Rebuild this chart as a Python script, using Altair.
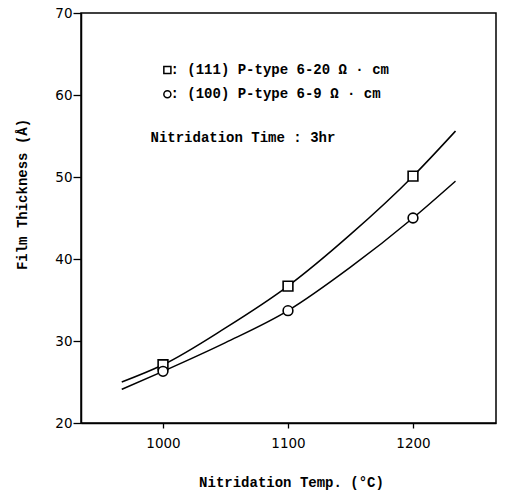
import altair as alt
import pandas as pd

# ---- data ----
temps = [1000, 1100, 1200]
thick_111 = [27.1, 36.7, 50.1]
thick_100 = [26.3, 33.7, 45.0]

# fitted curves (at several temperatures)
curve_temp = [967, 1000, 1050, 1100, 1150, 1200, 1234]
curve_111 = [25.0, 27.1, 31.6, 36.7, 43.0, 50.1, 55.6]
curve_100 = [24.1, 26.3, 29.8, 33.7, 39.0, 45.0, 49.5]

series = ["(111)", "(100)"]
legend_labels = [": (111) P-type 6-20 Ω · cm", ": (100) P-type 6-9 Ω · cm"]
note_text = "Nitridation Time : 3hr"
x_ticks = [1000, 1100, 1200]
y_ticks = [20, 30, 40, 50, 60, 70]

points = pd.DataFrame({
    "temp": temps * 2,
    "thick": thick_111 + thick_100,
    "series": [series[0]] * 3 + [series[1]] * 3,
})
curves = pd.DataFrame({
    "temp": curve_temp * 2,
    "thick": curve_111 + curve_100,
    "series": [series[0]] * len(curve_temp) + [series[1]] * len(curve_temp),
})

# annotation anchor positions (data units)
leg_sym_x = 1003.5
leg_txt_x = 1006
leg_y = [63.05, 60.1]
note_x = 990
note_y = 54.75

legend_df = pd.DataFrame({
    "series": series,
    "label": legend_labels,
    "sx": [leg_sym_x] * 2,
    "tx": [leg_txt_x] * 2,
    "y": leg_y,
})
note_df = pd.DataFrame({"x": [note_x], "y": [note_y], "t": [note_text]})

MONO = "Liberation Mono"
SANS = "DejaVu Sans"

xs = alt.Scale(domain=[934.4, 1266.4], nice=False, zero=False)
ys = alt.Scale(domain=[20, 70], nice=False, zero=False)
shape_scale = alt.Scale(domain=series, range=["square", "circle"])

x_axis = alt.Axis(
    values=x_ticks, format="d", grid=False,
    title="Nitridation Temp. (°C)",
    titleFont=MONO, titleFontSize=14, titleFontWeight="bold", titleColor="black",
    titleX=210, titleY=59, titleBaseline="middle", titleAnchor="start", titleAlign="center",
    labelFont=SANS, labelFontSize=13.5, labelColor="black",
    tickSize=5, tickColor="black", tickWidth=1.3, labelPadding=8,
    domainColor="black", domainWidth=1.5,
)
y_axis = alt.Axis(
    values=y_ticks, grid=False,
    title="Film Thickness (Å)",
    titleFont=MONO, titleFontSize=14, titleFontWeight="bold", titleColor="black",
    titleX=-59, titleY=181, titleBaseline="middle", titleAlign="center", titleAngle=-90,
    labelFont=SANS, labelFontSize=13.5, labelColor="black",
    tickSize=8, tickColor="black", tickWidth=1.3, labelPadding=1,
    domainColor="black", domainWidth=1.5,
)

lines = alt.Chart(curves).mark_line(
    color="black", strokeWidth=1.5, interpolate="monotone"
).encode(
    x=alt.X("temp:Q", scale=xs, axis=x_axis),
    y=alt.Y("thick:Q", scale=ys, axis=y_axis),
    detail="series:N",
)

marks = alt.Chart(points).mark_point(
    filled=True, fill="white", stroke="black", strokeWidth=1.6, opacity=1
).encode(
    x=alt.X("temp:Q", scale=xs),
    y=alt.Y("thick:Q", scale=ys),
    shape=alt.Shape("series:N", scale=shape_scale, legend=None),
    size=alt.value(95),
)

leg_sym = alt.Chart(legend_df).mark_point(
    filled=True, fill="white", stroke="black", strokeWidth=1.5, opacity=1
).encode(
    x=alt.X("sx:Q", scale=xs),
    y=alt.Y("y:Q", scale=ys),
    shape=alt.Shape("series:N", scale=shape_scale, legend=None),
    size=alt.value(50),
)

leg_txt = alt.Chart(legend_df).mark_text(
    align="left", baseline="middle", font=MONO, fontSize=14, fontWeight="bold", color="black"
).encode(
    x=alt.X("tx:Q", scale=xs),
    y=alt.Y("y:Q", scale=ys),
    text="label:N",
)

note = alt.Chart(note_df).mark_text(
    align="left", baseline="middle", font=MONO, fontSize=14, fontWeight="bold", color="black"
).encode(
    x=alt.X("x:Q", scale=xs),
    y=alt.Y("y:Q", scale=ys),
    text="t:N",
)

chart = alt.layer(lines, marks, leg_sym, leg_txt, note).properties(
    width=415, height=410,
    autosize=alt.AutoSizeParams(type="none"),
    padding={"left": 81, "top": 13, "right": 12, "bottom": 67},
    background="white",
).configure_view(
    stroke="black", strokeWidth=1.5
)

chart.save("out.html", embed_options={"renderer": "svg", "actions": False})
